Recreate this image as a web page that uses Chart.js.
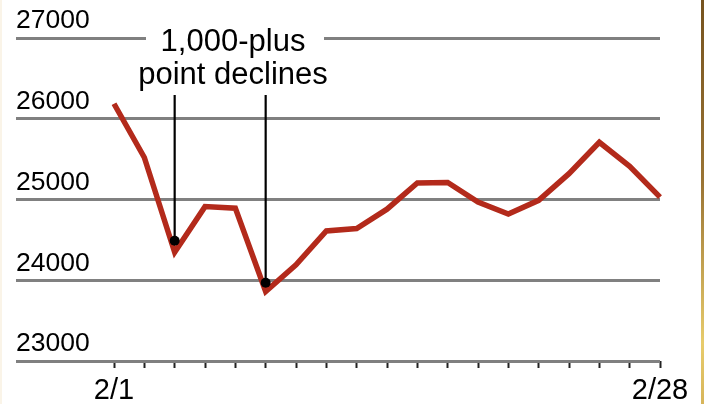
<!DOCTYPE html>
<html><head><meta charset="utf-8">
<script src="https://cdn.jsdelivr.net/npm/chart.js@4/dist/chart.umd.min.js"></script>
<style>
html,body{margin:0;padding:0;background:#fff;}
#wrap{position:relative;width:704px;height:404px;overflow:hidden;background:#fff;}
#edgeL{position:absolute;left:0;top:0;width:2px;height:404px;background:#faf4e8;}
#edgeR{position:absolute;right:0;top:0;width:3px;height:404px;background:linear-gradient(#76531f,#9a7434 45%,#e8cc6c 85%,#d7b55a);}
canvas{position:absolute;left:0;top:0;}
</style></head><body>
<div id="wrap"><canvas id="c" width="704" height="404"></canvas><div id="edgeL"></div><div id="edgeR"></div></div>
<script>
// Trading days, February 2018
const dates = ['2/1','2/2','2/5','2/6','2/7','2/8','2/9','2/12','2/13','2/14','2/15','2/16','2/20','2/21','2/22','2/23','2/26','2/27','2/28'];
// Closing values
const closes = [26186,25520,24346,24912,24893,23860,24191,24610,24640,24880,25205,25210,24968,24820,24990,25320,25709,25410,25029];
// Black dots marking the 1,000-plus point declines
const markerValues = [null,null,24490,null,null,23970,null,null,null,null,null,null,null,null,null,null,null,null,null];
const yMin = 23000, yMax = 27000, yStep = 1000;
const noteLines = ['1,000-plus','point declines'];
const FONT = '"Liberation Sans", Arial, Helvetica, sans-serif';

const notePlugin = {
  id: 'note',
  beforeDatasetsDraw(chart) {
    const ctx = chart.ctx;
    const meta = chart.getDatasetMeta(1);
    ctx.save();
    ctx.fillStyle = '#fff';
    ctx.fillRect(146, 32, 178, 12);
    ctx.strokeStyle = '#000';
    ctx.lineWidth = 2.2;
    meta.data.forEach((pt, i) => {
      if (markerValues[i] == null) return;
      ctx.beginPath();
      ctx.moveTo(pt.x, 95);
      ctx.lineTo(pt.x, pt.y);
      ctx.stroke();
    });
    ctx.fillStyle = '#000';
    ctx.font = '31px ' + FONT;
    ctx.textAlign = 'center';
    ctx.textBaseline = 'alphabetic';
    ctx.fillText(noteLines[0], 233, 51);
    ctx.fillText(noteLines[1], 233, 84);
    ctx.restore();
  }
};

new Chart(document.getElementById('c'), {
  type: 'line',
  data: {
    labels: dates,
    datasets: [
      {
        data: closes,
        borderColor: '#b32a1b',
        borderWidth: 5.5,
        borderJoinStyle: 'miter',
        borderCapStyle: 'butt',
        pointRadius: 0,
        tension: 0,
        order: 2
      },
      {
        data: markerValues,
        showLine: false,
        pointRadius: 5,
        pointBackgroundColor: '#000',
        pointBorderColor: '#000',
        pointBorderWidth: 0,
        order: 1
      }
    ]
  },
  options: {
    responsive: false,
    animation: false,
    events: [],
    layout: { padding: { left: 16, right: 44, top: 38, bottom: 0 } },
    plugins: { legend: { display: false }, tooltip: { enabled: false } },
    scales: {
      x: {
        type: 'category',
        offset: false,
        border: { display: false },
        grid: { display: true, drawOnChartArea: false, drawTicks: true, tickLength: 7, tickColor: '#222', tickWidth: 2, offset: false },
        ticks: {
          autoSkip: false, maxRotation: 0, minRotation: 0, padding: 6,
          color: '#000', font: { family: FONT, size: 29 },
          callback: (v, i) => (i === 0 || i === dates.length - 1) ? dates[i] : ''
        },
        afterFit: (s) => { s.height = 43; }
      },
      y: {
        min: yMin, max: yMax,
        border: { display: false },
        grid: { color: '#808080', lineWidth: 3, drawTicks: true, tickLength: 98, tickColor: '#808080', tickWidth: 3 },
        ticks: {
          stepSize: yStep, crossAlign: 'far', labelOffset: -17,
          color: '#000', font: { family: FONT, size: 26.5 },
          callback: (v) => String(v)
        },
        afterFit: (s) => { s.width = 98; }
      }
    }
  },
  plugins: [notePlugin]
});
</script>
</body></html>
